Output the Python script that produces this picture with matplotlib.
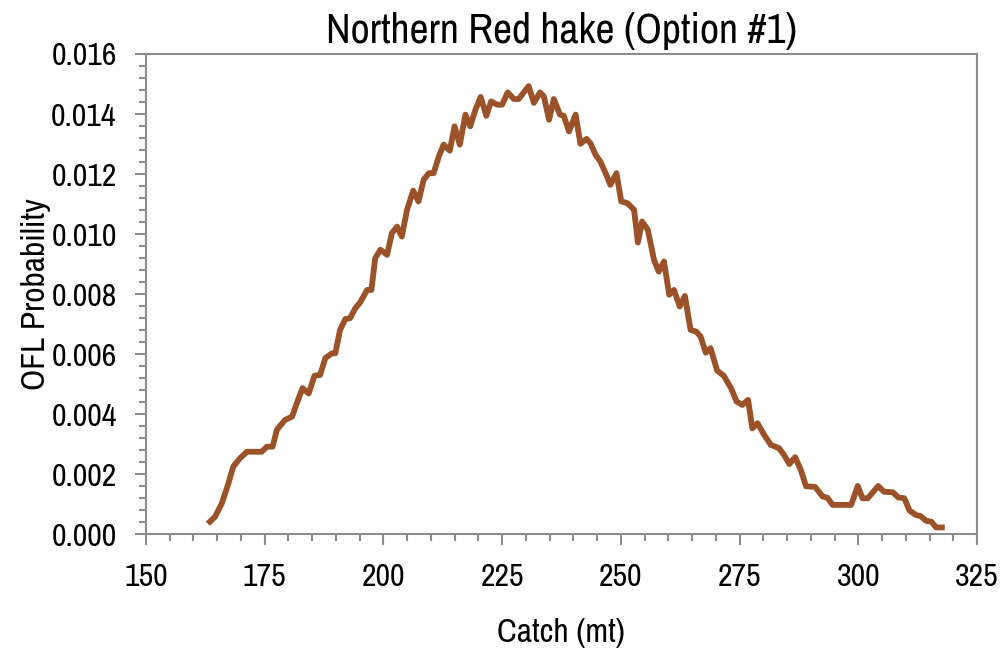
import numpy as np
import matplotlib.pyplot as plt
from matplotlib.ticker import MultipleLocator, FormatStrFormatter
from matplotlib import font_manager

# catch (mt) and OFL probability
catch = [163.5, 164.6, 166.0, 167.4, 168.4, 169.8, 171.3, 174.4, 175.5, 176.7,
         177.6, 179.3, 180.8, 181.8, 183.0, 184.3, 185.5, 186.7, 187.8, 189.2,
         189.9, 190.9, 192.0, 193.0, 194.1, 195.1, 196.6, 197.5, 198.3, 199.4,
         200.8, 201.8, 202.9, 203.9, 205.0, 206.3, 207.4, 208.5, 209.6, 210.6,
         211.7, 212.7, 214.0, 215.0, 216.1, 217.3, 218.3, 219.4, 220.5, 221.7,
         222.7, 224.0, 225.0, 226.2, 227.5, 228.5, 230.6, 231.7, 233.0, 233.8,
         234.9, 235.9, 237.2, 238.0, 239.1, 240.5, 241.5, 242.8, 243.6, 244.7,
         245.7, 246.8, 247.8, 249.1, 250.1, 251.4, 252.8, 253.6, 254.5, 255.7,
         257.0, 258.0, 259.1, 260.2, 261.2, 262.4, 263.5, 264.7, 265.9, 266.8,
         267.9, 268.9, 270.3, 271.7, 273.2, 274.4, 275.6, 276.8, 277.7, 278.8,
         280.2, 281.6, 283.3, 284.4, 285.5, 286.7, 287.9, 289.0, 290.9, 292.5,
         293.5, 294.6, 298.5, 299.9, 300.9, 302.0, 304.2, 305.4, 307.3, 308.4,
         309.7, 310.8, 312.2, 313.1, 314.3, 315.4, 316.4, 317.6]
prob = [0.00042, 0.00059, 0.00103, 0.00170, 0.00225, 0.00253, 0.00275, 0.00275, 0.00292, 0.00292,
        0.00348, 0.00381, 0.00392, 0.00437, 0.00487, 0.00469, 0.00528, 0.00531, 0.00587, 0.00603,
        0.00603, 0.00681, 0.00717, 0.00720, 0.00753, 0.00772, 0.00814, 0.00814, 0.00920, 0.00948,
        0.00931, 0.01003, 0.01025, 0.00992, 0.01081, 0.01145, 0.01109, 0.01181, 0.01203, 0.01203,
        0.01259, 0.01298, 0.01278, 0.01359, 0.01298, 0.01398, 0.01359, 0.01414, 0.01457, 0.01394,
        0.01442, 0.01431, 0.01431, 0.01472, 0.01450, 0.01450, 0.01493, 0.01437, 0.01472, 0.01459,
        0.01381, 0.01450, 0.01398, 0.01394, 0.01342, 0.01398, 0.01301, 0.01317, 0.01303, 0.01264,
        0.01242, 0.01203, 0.01164, 0.01203, 0.01109, 0.01103, 0.01081, 0.00972, 0.01042, 0.01014,
        0.00914, 0.00875, 0.00909, 0.00798, 0.00814, 0.00759, 0.00794, 0.00681, 0.00675, 0.00659,
        0.00605, 0.00620, 0.00545, 0.00528, 0.00487, 0.00442, 0.00431, 0.00448, 0.00353, 0.00370,
        0.00331, 0.00298, 0.00287, 0.00264, 0.00234, 0.00257, 0.00215, 0.00160, 0.00158, 0.00126,
        0.00122, 0.00098, 0.00098, 0.00161, 0.00120, 0.00120, 0.00161, 0.00142, 0.00140, 0.00123,
        0.00120, 0.00079, 0.00064, 0.00061, 0.00045, 0.00042, 0.00023, 0.00023]

# narrow sans for the Excel "Arial Narrow" look
fams = set(f.name for f in font_manager.fontManager.ttflist)
narrow = [f for f in ['Liberation Sans Narrow', 'Archivo Narrow'] if f in fams]
plt.rcParams['font.family'] = narrow + ['DejaVu Sans']

grey = '#8c8c8c'
fig = plt.figure(figsize=(10, 6.49), dpi=100)
ax = fig.add_axes([0.1458, 0.1767, 0.8312, 0.7401])
ax.plot(catch, prob, color='#9c5228', lw=4.2, solid_joinstyle='round')

ax.set_xlim(150, 325)
ax.set_ylim(0, 0.016)
ax.xaxis.set_major_locator(MultipleLocator(25))
ax.xaxis.set_minor_locator(MultipleLocator(5))
ax.yaxis.set_major_locator(MultipleLocator(0.002))
ax.yaxis.set_minor_locator(MultipleLocator(0.0004))
ax.yaxis.set_major_formatter(FormatStrFormatter('%.3f'))

for s in ax.spines.values():
    s.set_color(grey)
    s.set_linewidth(1.5)
ax.tick_params(which='major', length=8, width=1.5, color=grey, labelsize=23)
ax.tick_params(which='minor', length=5, width=1.5, color=grey)
ax.tick_params(axis='x', pad=13)
ax.tick_params(axis='y', pad=13)

ax.set_title('Northern Red hake (Option #1)', fontsize=30, pad=8)
ax.set_xlabel('Catch (mt)', fontsize=24, labelpad=19)
ax.set_ylabel('OFL Probability', fontsize=24, labelpad=0)

fig.savefig('out.png', dpi=100)
